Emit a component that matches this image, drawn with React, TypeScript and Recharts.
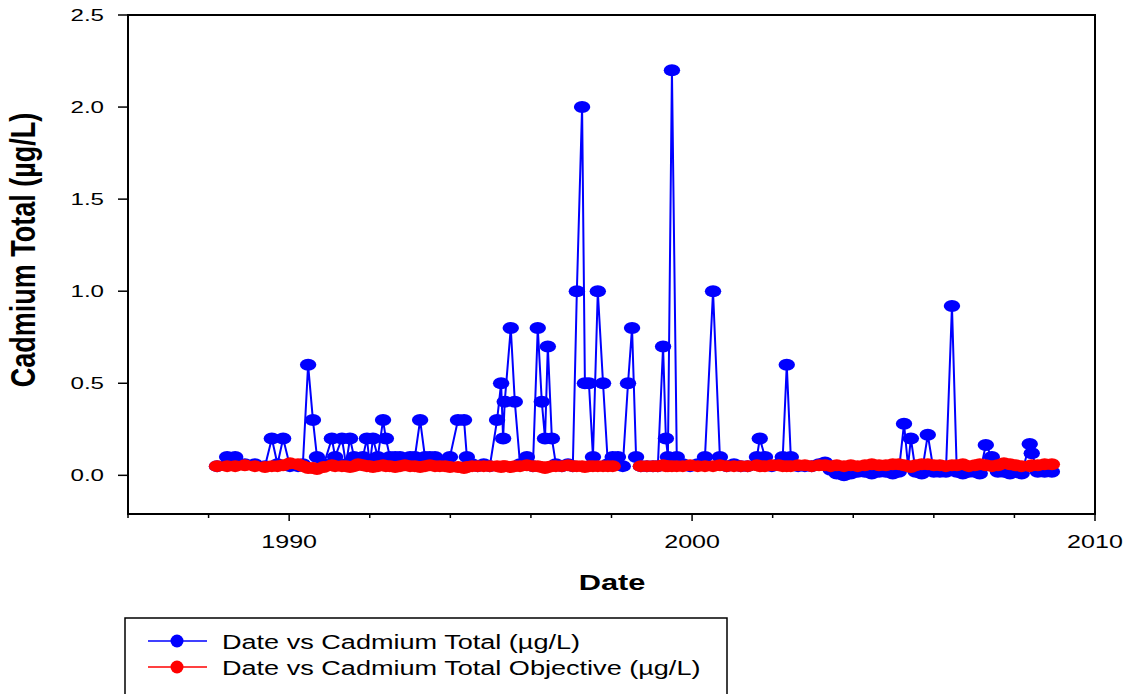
import React from 'react';
import { LineChart, Line, XAxis, YAxis, ReferenceArea } from 'recharts';

// Sample dates (decimal years)
const dates = [
  1988.21, 1988.46, 1988.66, 1988.90, 1989.15, 1989.40, 1989.57, 1989.71, 1989.85, 1990.02,
  1990.22, 1990.34, 1990.47, 1990.59, 1990.69, 1990.86, 1991.06, 1991.14, 1991.31, 1991.41,
  1991.51, 1991.61, 1991.71, 1991.83, 1991.93, 1992.00, 1992.08, 1992.20, 1992.33, 1992.40,
  1992.50, 1992.63, 1992.75, 1992.87, 1993.00, 1993.12, 1993.25, 1993.37, 1993.49, 1993.62,
  1993.74, 1993.87, 1993.99, 1994.19, 1994.34, 1994.41, 1994.54, 1994.68, 1994.83, 1994.98,
  1995.16, 1995.26, 1995.31, 1995.35, 1995.50, 1995.60, 1995.73, 1995.90, 1996.05, 1996.17,
  1996.27, 1996.35, 1996.42, 1996.52, 1996.62, 1996.77, 1996.92, 1997.04, 1997.14, 1997.27,
  1997.34, 1997.44, 1997.54, 1997.66, 1997.79, 1997.91, 1998.03, 1998.16, 1998.28, 1998.41,
  1998.51, 1998.61, 1998.73, 1998.88, 1999.03, 1999.15, 1999.28, 1999.35, 1999.40, 1999.50,
  1999.62, 1999.77, 1999.95, 2000.14, 2000.32, 2000.52, 2000.69, 2000.86, 2001.04, 2001.21,
  2001.38, 2001.61, 2001.68, 2001.81, 2001.98, 2002.15, 2002.25, 2002.35, 2002.45, 2002.63,
  2002.80, 2002.97, 2003.15, 2003.30, 2003.44, 2003.59, 2003.77, 2003.94, 2004.11, 2004.29,
  2004.46, 2004.64, 2004.81, 2004.98, 2005.13, 2005.26, 2005.36, 2005.43, 2005.55, 2005.70,
  2005.85, 2006.00, 2006.15, 2006.30, 2006.45, 2006.57, 2006.72, 2006.87, 2007.02, 2007.14,
  2007.29, 2007.44, 2007.59, 2007.74, 2007.89, 2008.03, 2008.18, 2008.38, 2008.43, 2008.58,
  2008.75, 2008.93,
];

// Cadmium Total (µg/L)
const cadmium = [
  0.05, 0.1, 0.1, 0.06, 0.06, 0.05, 0.2, 0.06, 0.2, 0.05,
  0.05, 0.06, 0.6, 0.3, 0.1, 0.06, 0.2, 0.1, 0.2, 0.06,
  0.2, 0.1, 0.06, 0.1, 0.2, 0.06, 0.2, 0.1, 0.3, 0.2,
  0.1, 0.1, 0.1, 0.06, 0.1, 0.1, 0.3, 0.1, 0.1, 0.1,
  0.06, 0.06, 0.1, 0.3, 0.3, 0.1, 0.06, 0.05, 0.06, 0.05,
  0.3, 0.5, 0.2, 0.4, 0.8, 0.4, 0.06, 0.1, 0.05, 0.8,
  0.4, 0.2, 0.7, 0.2, 0.06, 0.05, 0.06, 0.05, 1.0, 2.0,
  0.5, 0.5, 0.1, 1.0, 0.5, 0.06, 0.1, 0.1, 0.05, 0.5,
  0.8, 0.1, 0.05, 0.05, 0.05, 0.05, 0.7, 0.2, 0.1, 2.2,
  0.1, 0.06, 0.05, 0.06, 0.1, 1.0, 0.1, 0.05, 0.06, 0.05,
  0.05, 0.1, 0.2, 0.1, 0.05, 0.06, 0.1, 0.6, 0.1, 0.05,
  0.05, 0.05, 0.06, 0.07, 0.03, 0.01, 0.0, 0.01, 0.02, 0.02,
  0.01, 0.02, 0.02, 0.01, 0.02, 0.28, 0.05, 0.2, 0.02, 0.01,
  0.22, 0.02, 0.02, 0.02, 0.92, 0.02, 0.01, 0.02, 0.02, 0.01,
  0.165, 0.1, 0.02, 0.02, 0.01, 0.02, 0.01, 0.17, 0.12, 0.02,
  0.02, 0.02,
];

// Cadmium Total Objective (µg/L)
const objective: (number | null)[] = [
  0.05, 0.05, 0.05, 0.055, 0.05, 0.045, 0.05, 0.05, 0.055, 0.065,
  0.06, 0.05, 0.04, 0.04, 0.035, 0.045, 0.055, 0.05, 0.05, 0.05,
  0.045, 0.05, 0.06, 0.055, 0.05, 0.05, 0.045, 0.05, 0.055, 0.05,
  0.05, 0.045, 0.05, 0.055, 0.05, 0.05, 0.045, 0.05, 0.055, 0.05,
  0.05, 0.05, 0.045, 0.045, 0.04, 0.045, 0.05, 0.05, 0.05, 0.05,
  0.05, 0.045, 0.05, 0.05, 0.045, 0.05, 0.05, 0.055, 0.05, 0.05,
  0.045, 0.04, 0.045, 0.05, 0.05, 0.05, 0.055, 0.05, 0.05, 0.05,
  0.045, 0.05, 0.05, 0.05, 0.05, 0.05, 0.05, null, null, null,
  null, null, 0.05, 0.05, 0.05, 0.05, 0.055, 0.05, 0.05, 0.05,
  0.05, 0.05, 0.055, 0.05, 0.05, 0.05, 0.055, 0.05, 0.05, 0.05,
  0.05, 0.055, 0.05, 0.05, 0.055, 0.055, 0.05, 0.05, 0.05, 0.055,
  0.055, 0.05, 0.055, 0.055, 0.05, 0.055, 0.05, 0.055, 0.05, 0.055,
  0.06, 0.055, 0.055, 0.06, 0.06, 0.055, 0.05, 0.045, 0.055, 0.06,
  0.06, 0.055, 0.055, 0.05, 0.055, 0.055, 0.06, 0.05, 0.055, 0.06,
  0.055, 0.05, 0.055, 0.065, 0.06, 0.055, 0.05, 0.05, 0.055, 0.055,
  0.06, 0.06,
];

const xTicks = [1986, 1988, 1990, 1992, 1994, 1996, 1998, 2000, 2002, 2004, 2006, 2008, 2010];
const xLabeled = [1990, 2000, 2010];
const yTicks = [0, 0.5, 1.0, 1.5, 2.0, 2.5];

const seriesNames = ['Date vs Cadmium Total (µg/L)', 'Date vs Cadmium Total Objective (µg/L)'];

const data = dates.map((d, i) => ({ date: d, cd: cadmium[i], obj: objective[i] }));

const FONT = '"Liberation Sans", Arial, Helvetica, sans-serif';
const BLUE = '#0000ff';
const RED = '#ff0000';

const makeDot = (color: string) => (p: any) => {
  if (p.cx == null || p.cy == null || p.value == null || isNaN(p.cy)) {
    return <g key={`${color}-n-${p.index}`} />;
  }
  return <ellipse key={`${color}-${p.index}`} cx={p.cx} cy={p.cy} rx={8.2} ry={6} fill={color} stroke="none" />;
};

const XTick = (p: any) => {
  const v = p.payload.value;
  const major = xLabeled.includes(v);
  return (
    <g>
      <line x1={p.x} x2={p.x} y1={p.y} y2={p.y + (major ? 7 : 4)} stroke="#000" strokeWidth={1.5} />
      {major && (
        <text
          transform={`translate(${p.x},${p.y + 34}) scale(1.32,1)`}
          textAnchor="middle"
          fontSize={19}
          fontFamily={FONT}
          fill="#000"
        >
          {v}
        </text>
      )}
    </g>
  );
};

const YTick = (p: any) => (
  <text
    transform={`translate(${p.x},${p.y}) scale(1.42,1)`}
    textAnchor="end"
    dominantBaseline="central"
    fontSize={17}
    fontFamily={FONT}
    fill="#000"
  >
    {Number(p.payload.value).toFixed(1)}
  </text>
);

export default function App() {
  return (
    <div style={{ position: 'relative', width: 1125, height: 694, background: '#fff' }}>
      <style>{'html,body{margin:0;padding:0;overflow:hidden;background:#fff}'}</style>
      <LineChart width={1125} height={694} data={data} margin={{ top: 15, right: 30, bottom: 140, left: 0 }}>
        <XAxis
          dataKey="date"
          type="number"
          domain={[1986, 2010]}
          ticks={xTicks}
          tick={<XTick />}
          tickLine={false}
          tickSize={0}
          tickMargin={0}
          axisLine={false}
          height={40}
          interval={0}
          allowDataOverflow
        />
        <YAxis
          type="number"
          domain={[-0.21, 2.5]}
          ticks={yTicks}
          tick={<YTick />}
          tickSize={10}
          tickMargin={14}
          tickLine={{ stroke: '#000', strokeWidth: 1.5 }}
          axisLine={false}
          width={128}
          interval={0}
          allowDataOverflow
        />
        <ReferenceArea
          x1={1986}
          x2={2010}
          y1={-0.21}
          y2={2.5}
          fill="none"
          fillOpacity={0}
          stroke="#000"
          strokeWidth={2}
          ifOverflow="visible"
        />
        <Line
          type="linear"
          dataKey="cd"
          stroke={BLUE}
          strokeWidth={2}
          dot={makeDot(BLUE)}
          activeDot={false}
          isAnimationActive={false}
          connectNulls={false}
        />
        <Line
          type="linear"
          dataKey="obj"
          stroke={RED}
          strokeWidth={1.5}
          dot={makeDot(RED)}
          activeDot={false}
          isAnimationActive={false}
          connectNulls={false}
        />
      </LineChart>
      <svg
        width={1125}
        height={694}
        style={{ position: 'absolute', left: 0, top: 0, pointerEvents: 'none' }}
      >
        <text
          transform="translate(35,250) scale(1.3,1) rotate(-90)"
          textAnchor="middle"
          fontSize={27}
          fontWeight="bold"
          fontFamily={FONT}
          fill="#000"
        >
          Cadmium Total (µg/L)
        </text>
        <text
          transform="translate(612,590) scale(1.4,1)"
          textAnchor="middle"
          fontSize={22}
          fontWeight="bold"
          fontFamily={FONT}
          fill="#000"
        >
          Date
        </text>
        <path d="M125,700 L125,618 L727,618 L727,700" fill="none" stroke="#000" strokeWidth={1.5} />
        <line x1={148} x2={207} y1={641} y2={641} stroke={BLUE} strokeWidth={1.5} />
        <circle cx={177} cy={641} r={6.5} fill={BLUE} />
        <text transform="translate(222,648.5) scale(1.29,1)" fontSize={21} fontFamily={FONT} fill="#000">
          {seriesNames[0]}
        </text>
        <line x1={148} x2={207} y1={667} y2={667} stroke={RED} strokeWidth={1.5} />
        <circle cx={177} cy={667} r={6.5} fill={RED} />
        <text transform="translate(222,674.5) scale(1.29,1)" fontSize={21} fontFamily={FONT} fill="#000">
          {seriesNames[1]}
        </text>
      </svg>
    </div>
  );
}
